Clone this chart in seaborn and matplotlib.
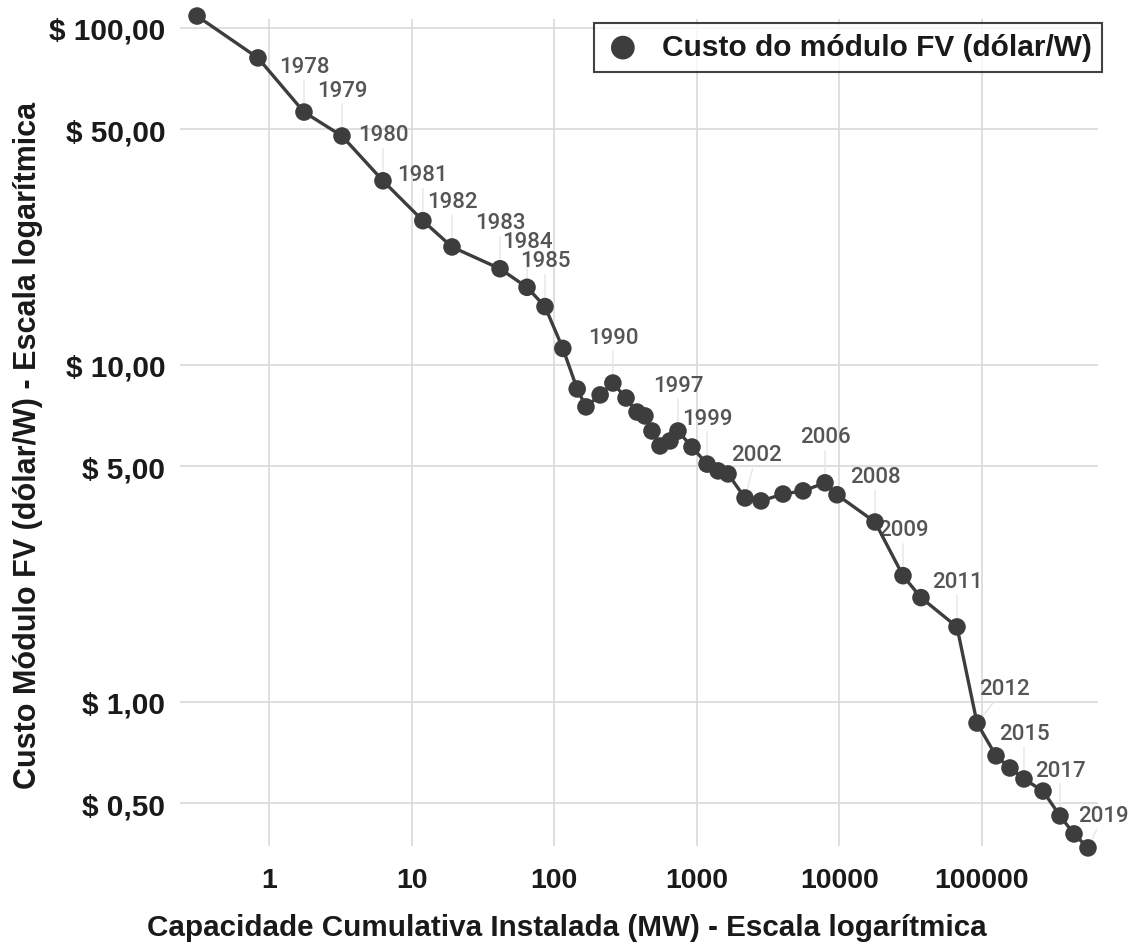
import matplotlib
matplotlib.use("Agg")
import matplotlib.pyplot as plt
import numpy as np
import pandas as pd
import seaborn as sns
from matplotlib.ticker import FixedLocator, FixedFormatter, NullLocator

# ---------------- data ----------------
years = list(range(1976, 2020))
capacity_mw = [0.313, 0.837, 1.76, 3.25, 6.30, 12.0, 19.2, 41.7, 64.5, 86.2,
               115, 145, 167, 210, 258, 319, 381, 433, 485, 552,
               649, 738, 925, 1180, 1410, 1656, 2180, 2820, 4025, 5560,
               7930, 9620, 17780, 27930, 37350, 66800, 92300, 125400, 157100, 197000,
               268000, 352500, 441900, 553900]
cost_usd_per_w = [108.5, 81.5, 56.3, 47.8, 35.2, 26.8, 22.4, 19.3, 17.0, 14.9,
                  11.2, 8.49, 7.51, 8.15, 8.84, 7.98, 7.25, 7.06, 6.37, 5.75,
                  5.95, 6.37, 5.71, 5.08, 4.85, 4.75, 4.03, 3.95, 4.14, 4.23,
                  4.47, 4.12, 3.42, 2.37, 2.04, 1.67, 0.866, 0.692, 0.637, 0.591,
                  0.544, 0.459, 0.406, 0.369]
label_years = [1978, 1979, 1980, 1981, 1982, 1983, 1984, 1985, 1990, 1997,
               1999, 2002, 2006, 2008, 2009, 2011, 2012, 2015, 2017, 2019]
x_ticks = [1, 10, 100, 1000, 10000, 100000]
x_tick_labels = ["1", "10", "100", "1000", "10000", "100000"]
y_ticks = [0.5, 1, 5, 10, 50, 100]
y_tick_labels = ["$ 0,50", "$ 1,00", "$ 5,00", "$ 10,00", "$ 50,00", "$ 100,00"]
series_name = "Custo do módulo FV (dólar/W)"
x_title = "Capacidade Cumulativa Instalada (MW) - Escala logarítmica"
y_title = "Custo Módulo FV (dólar/W) - Escala logarítmica"

df = pd.DataFrame({"ano": years, "capacidade": capacity_mw, "custo": cost_usd_per_w})

# ---------------- style ----------------
sns.set_theme(style="white")
plt.rcParams["font.family"] = ["Liberation Sans", "DejaVu Sans"]

DARK = "#3d3d3d"
fig = plt.figure(figsize=(11.36, 9.45), dpi=100)
ax = fig.add_axes([0.15845, 0.1037, 0.8081, 0.8751])

sns.lineplot(data=df, x="capacidade", y="custo", sort=False, color=DARK,
             lw=2.4, ax=ax, legend=False, zorder=2)
sns.scatterplot(data=df, x="capacidade", y="custo", color=DARK, s=160,
                edgecolor="none", ax=ax, label=series_name, zorder=3, clip_on=False)

ax.set_xscale("log")
ax.set_yscale("log")
ax.set_xlim(0.2377, 651000)
ax.set_ylim(0.3738, 106.3)

ax.xaxis.set_major_locator(FixedLocator(x_ticks))
ax.xaxis.set_major_formatter(FixedFormatter(x_tick_labels))
ax.xaxis.set_minor_locator(NullLocator())
ax.yaxis.set_major_locator(FixedLocator(y_ticks))
ax.yaxis.set_major_formatter(FixedFormatter(y_tick_labels))
ax.yaxis.set_minor_locator(NullLocator())

ax.grid(True, which="major", color="#d9d9d9", lw=1.2)
for s in ax.spines.values():
    s.set_visible(False)
ax.tick_params(axis="both", length=0)
ax.tick_params(axis="y", pad=10.5, labelsize=21.5, labelcolor="#1a1a1a")
ax.tick_params(axis="x", pad=15, labelsize=20.5, labelcolor="#1a1a1a")
for t in ax.get_xticklabels() + ax.get_yticklabels():
    t.set_fontweight("bold")

ax.set_xlabel(x_title, fontsize=21.3, fontweight="bold", color="#1a1a1a")
ax.set_ylabel(y_title, fontsize=22, fontweight="bold", color="#1a1a1a")
ax.xaxis.set_label_coords(0.4216, -0.098)
ax.xaxis.label.set_va("center")
ax.yaxis.set_label_coords(-0.1656, 0.486)
ax.yaxis.label.set_va("center")

# year annotations (offsets in points: styling only)
special = {2002: (8, 31), 2012: (20, 25), 2019: (11, 23)}
for yr in label_years:
    row = df[df["ano"] == yr].iloc[0]
    dx, dy = special.get(yr, (0, 33))
    ax.annotate(str(yr), xy=(row["capacidade"], row["custo"]),
                xytext=(dx, dy), textcoords="offset points",
                ha="center", va="center", fontsize=16, color="#555555",
                family=["Roboto", "DejaVu Sans"], fontweight="medium",
                annotation_clip=False, zorder=1,
                arrowprops=dict(arrowstyle="-", color="#e6e6e6", lw=1.0,
                                shrinkA=0, shrinkB=6))

leg = ax.legend(loc="upper right", bbox_to_anchor=(1102 / 1136, 1 - 24 / 945),
                bbox_transform=fig.transFigure, borderaxespad=0, frameon=True,
                fancybox=False, edgecolor="#111111", fontsize=21.5,
                markerscale=1.35, handletextpad=0.7, borderpad=0.35,
                handlelength=1.2)
leg.get_frame().set_linewidth(1.5)
for t in leg.get_texts():
    t.set_fontweight("bold")
    t.set_color("#1a1a1a")

fig.savefig("out.png", dpi=100)
